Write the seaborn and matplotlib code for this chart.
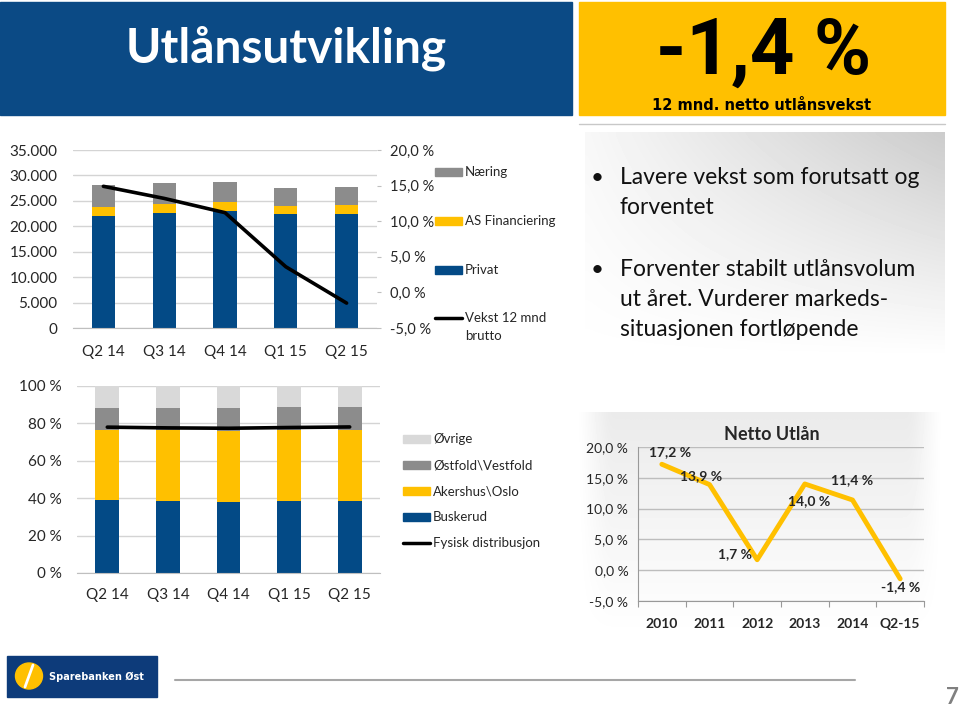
import numpy as np
import matplotlib
matplotlib.use("Agg")
import matplotlib.pyplot as plt
import seaborn as sns
from matplotlib.patches import Rectangle, Ellipse
from matplotlib.lines import Line2D
from matplotlib.ticker import FuncFormatter

# ---- data ----
quarters = ["Q2 14", "Q3 14", "Q4 14", "Q1 15", "Q2 15"]
privat = [22050, 22570, 23030, 22370, 22440]
as_fin = [1830, 1830, 1700, 1700, 1700]
naering = [4190, 4120, 4060, 3470, 3530]
vekst_brutto = [14.9, 13.2, 11.2, 3.6, -1.5]

buskerud = [38.9, 38.6, 38.0, 38.6, 38.4]
akershus = [37.4, 37.7, 37.9, 37.7, 37.9]
ostfold = [12.1, 11.9, 12.3, 12.6, 12.6]
ovrige = [11.6, 11.8, 11.8, 11.1, 11.1]
fysisk = [78.0, 77.6, 77.4, 77.8, 78.1]

years = ["2010", "2011", "2012", "2013", "2014", "Q2-15"]
netto = [17.2, 13.9, 1.7, 14.0, 11.4, -1.4]

BLUE = "#034a86"
YELLOW = "#ffc000"
GREY = "#8c8c8c"
LIGHT = "#d9d9d9"
HEADER = "#0b4a85"
GRID = "#d4d4d4"

sns.set_style("white")
plt.rcParams["font.family"] = ["Lato", "DejaVu Sans"]

W, H = 960, 706
fig = plt.figure(figsize=(9.6, 7.06), dpi=100)


def rect(x0, y0, x1, y1):
    """pixel box (top-left origin) -> figure fraction rect"""
    return [x0 / W, 1 - y1 / H, (x1 - x0) / W, (y1 - y0) / H]


def fx(x):
    return x / W


def fy(y):
    return 1 - y / H


def box(x0, y0, x1, y1, color, **kw):
    fig.patches.append(Rectangle((fx(x0), fy(y1)), (x1 - x0) / W, (y1 - y0) / H,
                                 transform=fig.transFigure, color=color, **kw))


def gradient(x0, y0, x1, y1, grid):
    g = fig.add_axes(rect(x0, y0, x1, y1), zorder=-5)
    g.imshow(grid, cmap="gray", vmin=0, vmax=1, aspect="auto", interpolation="bicubic")
    g.axis("off")


def stacked(ax, layers, colors, width):
    cum = np.cumsum(layers, axis=0)
    for tot, c in reversed(list(zip(cum, colors))):
        sns.barplot(x=quarters, y=tot, color=c, width=width, saturation=1,
                    linewidth=0, ax=ax, zorder=2)


# ---- header ----
box(0, 2, 572, 115, HEADER)
fig.text(fx(126), fy(48), "Utlånsutvikling", color="white", fontsize=34.5,
         fontweight="bold", va="center", ha="left")
box(579, 2, 945, 115, YELLOW)
fig.text(fx(764), fy(53), "-1,4 %", color="black", fontsize=56, family="Roboto",
         fontweight="bold", va="center", ha="center")
fig.text(fx(762), fy(106), "12 mnd. netto utlånsvekst", color="black", fontsize=10.5,
         family="DejaVu Sans", fontweight="bold", va="center", ha="center")
fig.lines.append(Line2D([fx(579), fx(945)], [fy(124), fy(124)], transform=fig.transFigure,
                        color="#c8c8c8", lw=1))

# ---- gradient panels ----
xx, yy = np.meshgrid(np.linspace(0, 1, 50), np.linspace(0, 1, 50))
gradient(585, 132, 945, 360, 1.0 - 0.17 * xx * (1 - yy) - 0.03 * (1 - yy))
edge = np.clip(np.minimum(xx, 1 - xx) * 12, 0, 1)
gradient(575, 412, 945, 640, 1.0 - 0.08 * (1 - yy) * edge)

# ---- top-left: volume by segment ----
ax1 = fig.add_axes(rect(73, 150, 377, 328))
stacked(ax1, [privat, as_fin, naering], [BLUE, YELLOW, GREY], 0.38)
ax1.set_ylim(0, 35000)
ax1.set_yticks(np.arange(0, 35001, 5000))
ax1.yaxis.set_major_formatter(FuncFormatter(lambda v, _: f"{int(v):,}".replace(",", ".")))
ax1.yaxis.grid(True, color=GRID, lw=1)
ax1.set_axisbelow(True)
ax1.set_xlim(-0.5, 4.5)
ax1.set_xticks(np.arange(-0.5, 5), minor=True)
ax1.tick_params(axis="x", which="major", length=0, pad=12, labelsize=11)
ax1.tick_params(axis="x", which="minor", length=5, color="#bfbfbf")
ax1.tick_params(axis="y", length=0, pad=11, labelsize=11)
ax1.set_xlabel("")
ax1.set_ylabel("")
sns.despine(ax=ax1, left=True, right=True, top=True)
ax1.spines["bottom"].set_color("#bfbfbf")

ax1b = ax1.twinx()
sns.lineplot(x=np.arange(len(quarters)), y=vekst_brutto, color="black", lw=2.6, ax=ax1b)
ax1b.set_xlim(-0.5, 4.5)
ax1b.set_ylim(-5, 20)
ax1b.set_yticks(np.arange(-5, 21, 5))
ax1b.yaxis.set_major_formatter(FuncFormatter(lambda v, _: f"{v:.1f} %".replace(".", ",")))
ax1b.tick_params(axis="y", length=3, color="#bfbfbf", pad=6, labelsize=10.5)
ax1b.set_ylabel("")
for s in ["top", "left", "bottom", "right"]:
    ax1b.spines[s].set_visible(False)

# top legend
for yc, c, lab in [(172, GREY, "Næring"), (221, YELLOW, "AS Financiering"), (270, BLUE, "Privat")]:
    box(435, yc - 4, 462, yc + 4, c)
    fig.text(fx(465), fy(yc), lab, fontsize=9.5, va="center", ha="left")
fig.lines.append(Line2D([fx(435), fx(462)], [fy(318), fy(318)], transform=fig.transFigure,
                        color="black", lw=2.5))
fig.text(fx(465), fy(318), "Vekst 12 mnd", fontsize=9.5, va="center", ha="left")
fig.text(fx(465), fy(336), "brutto", fontsize=9.5, va="center", ha="left")

# ---- bullets ----
bullets = [(178, "Lavere vekst som forutsatt og", True), (208, "forventet", False),
           (270, "Forventer stabilt utlånsvolum", True), (300, "ut året. Vurderer markeds-", False),
           (330, "situasjonen fortløpende", False)]
for yc, line, dot in bullets:
    if dot:
        fig.text(fx(597), fy(yc), "•", fontsize=16, va="center", ha="center", color="#111111")
    fig.text(fx(620), fy(yc), line, fontsize=16.5, va="center", ha="left", color="#111111")

# ---- bottom-left: regional distribution ----
ax2 = fig.add_axes(rect(77, 386, 380, 573))
stacked(ax2, [buskerud, akershus, ostfold, ovrige], [BLUE, YELLOW, GREY, LIGHT], 0.39)
sns.lineplot(x=np.arange(len(quarters)), y=fysisk, color="black", lw=2.6, ax=ax2, zorder=3)
ax2.set_ylim(0, 100)
ax2.set_yticks(np.arange(0, 101, 20))
ax2.yaxis.set_major_formatter(FuncFormatter(lambda v, _: f"{int(v)} %"))
ax2.yaxis.grid(True, color=GRID, lw=1)
ax2.set_axisbelow(True)
ax2.set_xlim(-0.5, 4.5)
ax2.set_xticks(np.arange(len(quarters)), quarters)
ax2.set_xticks(np.arange(-0.5, 5), minor=True)
ax2.tick_params(axis="x", which="major", length=0, pad=11, labelsize=11)
ax2.tick_params(axis="x", which="minor", length=5, color="#bfbfbf")
ax2.tick_params(axis="y", length=0, pad=11, labelsize=11)
ax2.set_xlabel("")
ax2.set_ylabel("")
sns.despine(ax=ax2, left=True, right=True, top=True)
ax2.spines["bottom"].set_color("#bfbfbf")

for yc, c, lab in [(439, LIGHT, "Øvrige"), (465, GREY, "Østfold\\Vestfold"),
                   (491, YELLOW, "Akershus\\Oslo"), (517, BLUE, "Buskerud")]:
    box(403, yc - 4, 430, yc + 4, c)
    fig.text(fx(433), fy(yc), lab, fontsize=9.5, va="center", ha="left")
fig.lines.append(Line2D([fx(403), fx(430)], [fy(543), fy(543)], transform=fig.transFigure,
                        color="black", lw=2.5))
fig.text(fx(433), fy(543), "Fysisk distribusjon", fontsize=9.5, va="center", ha="left")

# ---- bottom-right: Netto Utlån ----
ax3 = fig.add_axes(rect(638, 447, 924, 601))
ax3.set_facecolor("none")
sns.lineplot(x=np.arange(len(years)), y=netto, color=YELLOW, lw=3.5, ax=ax3)
ax3.set_xlim(-0.5, 5.5)
ax3.set_ylim(-5, 20)
ax3.set_yticks(np.arange(-5, 21, 5))
ax3.yaxis.set_major_formatter(FuncFormatter(lambda v, _: f"{v:.1f} %".replace(".", ",")))
ax3.yaxis.grid(True, color="#bdbdbd", lw=1)
ax3.set_axisbelow(True)
ax3.set_xticks(np.arange(len(years)), years)
ax3.tick_params(axis="x", length=0, pad=12, labelsize=10)
ax3.tick_params(axis="y", length=4, color="#999999", pad=3, labelsize=10)
for t in ax3.get_xticklabels():
    t.set_fontweight("bold")
ax3.set_xlabel("")
ax3.set_ylabel("")
for s in ["top", "right", "bottom"]:
    ax3.spines[s].set_visible(False)
ax3.spines["left"].set_color("#999999")
zero = ax3.secondary_xaxis(0)
zero.set_xticks(np.arange(-0.5, 6, 1))
zero.tick_params(length=4, color="#999999", labelbottom=False)
zero.spines["bottom"].set_color("#999999")

offsets = [(6, 9), (-6, 6), (-16, 4), (3, -12), (0, 14), (0, -6)]
for i, (v, off) in enumerate(zip(netto, offsets)):
    ax3.annotate(f"{v:.1f} %".replace(".", ","), (i, v), xytext=off, textcoords="offset points",
                 ha="center", va="center", fontsize=10, fontweight="bold")
fig.text(fx(772), fy(434), "Netto Utlån", fontsize=13, fontweight="bold", ha="center", va="center")

# ---- footer ----
box(7, 656, 157, 697, "#0d3b7a")
fig.patches.append(Ellipse((fx(29), fy(676)), 27 / W, 26 / H, transform=fig.transFigure,
                           color=YELLOW))
fig.lines.append(Line2D([fx(25), fx(33)], [fy(687), fy(665)], transform=fig.transFigure,
                        color="white", lw=2))
fig.text(fx(49), fy(677), "Sparebanken Øst", color="white", fontsize=7, fontweight="bold",
         family="DejaVu Sans", va="center", ha="left")
fig.lines.append(Line2D([fx(175), fx(855)], [fy(680), fy(680)], transform=fig.transFigure,
                        color="#a6a6a6", lw=1.5))
fig.text(fx(952), fy(697), "7", color="#808080", fontsize=16, fontweight="bold",
         va="center", ha="center")

fig.savefig("out.png", dpi=100)
